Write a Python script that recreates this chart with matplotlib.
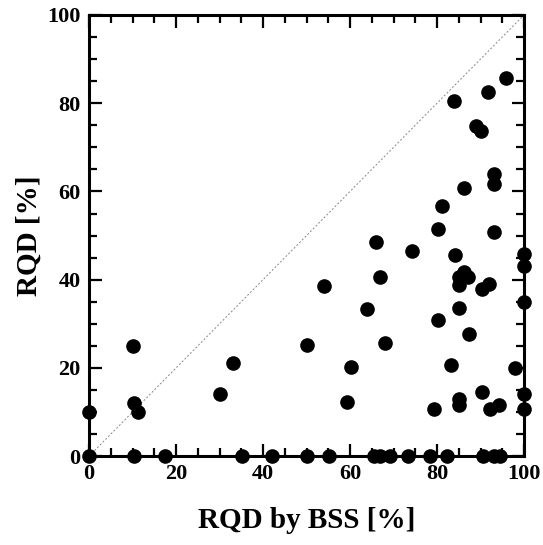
import numpy as np
import matplotlib
matplotlib.use('Agg')
import matplotlib.pyplot as plt
from matplotlib.ticker import MultipleLocator

# RQD by BSS [%] (x) vs RQD [%] (y)
bss = [0, 10, 10.3, 11.3, 30.2, 33, 50.1, 54, 59.2, 60.2, 64, 66, 67, 68.1,
       74.2, 79.4, 80.2, 80.2, 81.1, 83.3, 84, 84.2, 85, 85.1, 85.1, 85.1,
       85.1, 86.1, 86.1, 87.2, 87.3, 89, 90, 90.3, 90.3, 91.8, 92, 92.2,
       93, 93, 93.1, 94.2, 95.8, 98, 100, 100, 100, 100, 100]
rqd = [10, 25, 12, 10, 14, 21.2, 25.3, 38.5, 12.3, 20.3, 33.4, 48.5, 40.5,
       25.6, 46.6, 10.6, 51.6, 30.8, 56.8, 20.6, 80.6, 45.7, 40.7, 38.8,
       33.6, 12.9, 11.6, 41.8, 60.8, 40.7, 27.7, 74.8, 73.8, 37.8, 14.6,
       82.6, 39, 10.7, 63.9, 61.7, 50.8, 11.7, 85.8, 19.9, 45.8, 43.1, 35,
       14.2, 10.8]

# points lying on RQD = 0
bss_zero = [0, 10.3, 17.4, 35.2, 42.1, 50.2, 55.2, 65.4, 66.9, 69.2, 73.3,
            78.5, 82.4, 90.5, 93.0, 94.5]
rqd_zero = [0] * len(bss_zero)

plt.rcParams['font.family'] = ['Liberation Serif', 'DejaVu Serif']
plt.rcParams['font.weight'] = 'bold'

fig = plt.figure(figsize=(5.43, 5.45), dpi=100)
ax = fig.add_axes([0.164, 0.163, 0.801, 0.8095])

# 1:1 line
ax.plot([0, 100], [0, 100], color='#888888', lw=0.7, ls=(0, (2, 2)), zorder=1)

ax.plot(bss, rqd, 'o', color='black', ms=9.5, clip_on=False, zorder=3)
ax.plot(bss_zero, rqd_zero, 'o', color='black', ms=9.5, clip_on=False, zorder=3)

ax.set_xlim(0, 100)
ax.set_ylim(0, 100)
ax.xaxis.set_major_locator(MultipleLocator(20))
ax.xaxis.set_minor_locator(MultipleLocator(5))
ax.yaxis.set_major_locator(MultipleLocator(20))
ax.yaxis.set_minor_locator(MultipleLocator(5))

for s in ax.spines.values():
    s.set_linewidth(2.2)
ax.tick_params(which='both', direction='in', top=True, right=True, width=1.6)
ax.tick_params(which='major', length=9, labelsize=16, pad=6)
ax.tick_params(which='minor', length=5.5)

ax.set_xlabel('RQD by BSS [%]', fontsize=21, fontweight='bold', labelpad=16)
ax.set_ylabel('RQD [%]', fontsize=21, fontweight='bold', labelpad=3)

fig.savefig('out.png', dpi=100)
